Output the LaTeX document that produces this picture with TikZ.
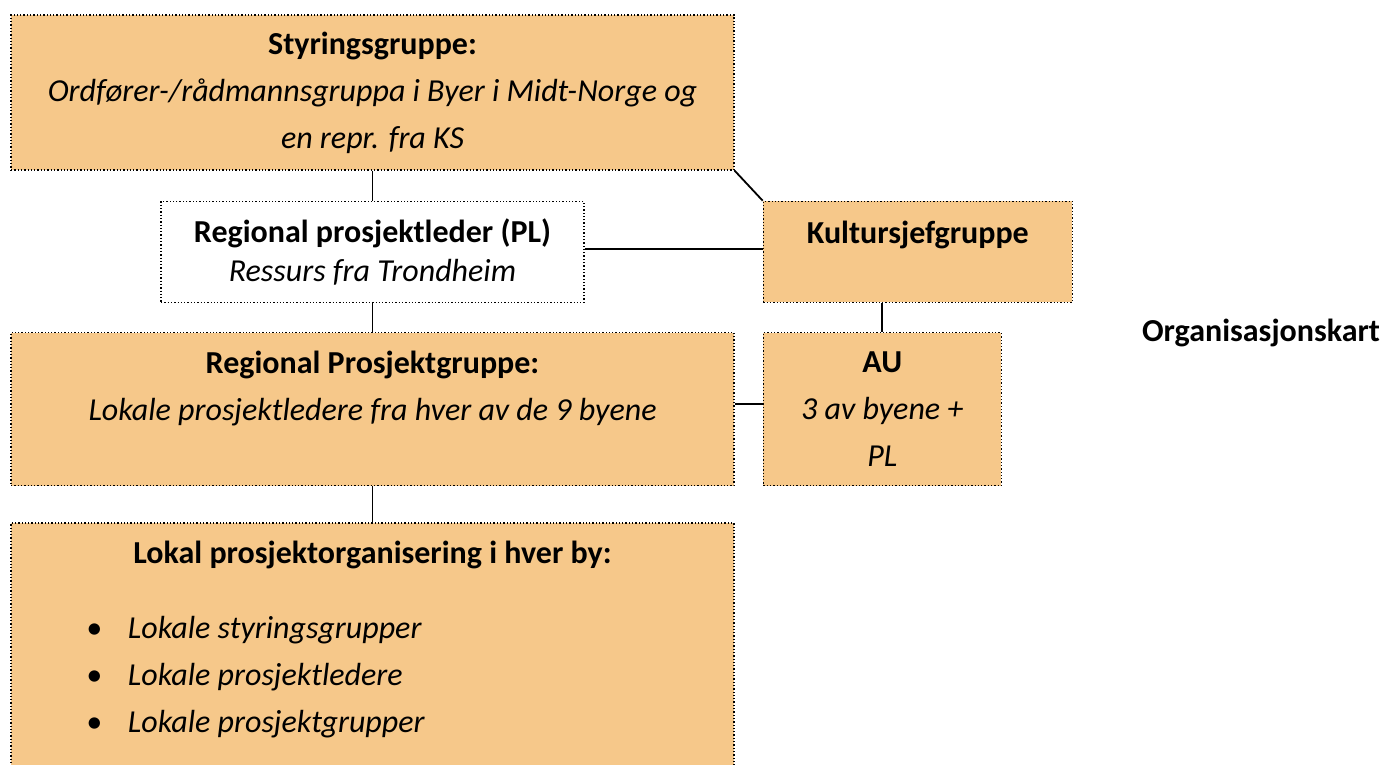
\documentclass[tikz,border=0pt]{standalone}
\usepackage{fontspec}
\setmainfont{Carlito}
\usetikzlibrary{positioning}
\definecolor{boxfill}{HTML}{F6C88A}
\newcommand{\lokalitem}[1]{\hspace*{75pt}\makebox[42pt][l]{\textbullet}#1\par}

\begin{document}
\begin{tikzpicture}[x=1pt,y=-1pt,
	box/.style={draw,line width=1.3pt,dotted,fill=boxfill,align=center,inner sep=0pt,
		font=\fontsize{32}{39}\selectfont},
	plbox/.style={box,fill=white},
	wide/.style={font=\fontsize{32}{47}\selectfont},
	link/.style={line width=1.8pt}]
		\useasboundingbox (0,0) rectangle (1384,764);
		\node (styr) [box,wide,minimum width=723pt,minimum height=155pt] at (372.5,92.5)
			{\textbf{Styringsgruppe:}\\\textit{Ordfører-/rådmannsgruppa i Byer i Midt-Norge og}\\\textit{en repr. fra KS}};
		\node (pl) [plbox,minimum width=423pt,minimum height=101pt,below=30pt of styr]
			{\textbf{Regional prosjektleder (PL)}\\\textit{Ressurs fra Trondheim}};
		\node (rp) [box,wide,minimum width=723pt,minimum height=153pt,below=29pt of pl]
			{\textbf{Regional Prosjektgruppe:}\\\textit{Lokale prosjektledere fra hver av de 9 byene}\\\mbox{}};
		\node (lokal) [box,wide,text width=723pt,inner ysep=18pt,below=36pt of rp,align=none]
			{\centering\textbf{Lokal prosjektorganisering i hver by:}\par\vspace{28pt}
			\raggedright\itshape
			\lokalitem{Lokale styringsgrupper}
			\lokalitem{Lokale prosjektledere}
			\lokalitem{Lokale prosjektgrupper}
			\vspace{80pt}\null};
		\node (kult) [box,minimum width=309pt,minimum height=101pt,right=178pt of pl]
			{\textbf{Kultursjefgruppe}\\\mbox{}};
		\node (au) [box,wide,minimum width=238pt,minimum height=153pt,below=29pt of kult.south west,anchor=north west]
			{\textbf{AU}\\\textit{3 av byene +}\\\textit{PL}};
		\node (title) [font=\fontsize{32}{39}\selectfont\bfseries] at (1261,333) {Organisasjonskart};
		\draw[link] (styr) -- (pl);
		\draw[link] (pl) -- (rp);
		\draw[link] (rp) -- (lokal);
		\draw[link] ([yshift=3pt]pl.east) -- ([yshift=3pt]kult.west);
		\draw[link] (styr.south east) -- (kult.north west);
		\draw[link] (au.north) -- (au.north |- kult.south);
		\draw[link] ([yshift=5pt]rp.east) -- ([yshift=5pt]au.west);
\end{tikzpicture}
\end{document}
